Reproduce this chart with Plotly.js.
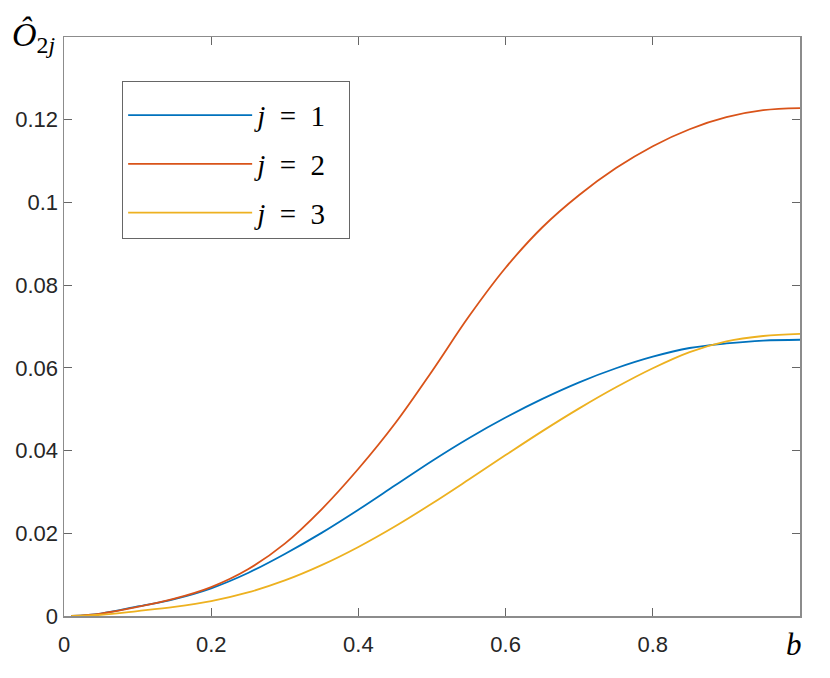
<!DOCTYPE html>
<html>
<head>
<meta charset="utf-8">
<script src="https://cdn.plot.ly/plotly-3.0.1.min.js"></script>
<style>
  html, body { margin: 0; padding: 0; background: #fff; }
  #chart { width: 830px; height: 678px; }
</style>
</head>
<body>
<div id="chart"></div>
<script>
var b = [0.01, 0.05, 0.1, 0.15, 0.2, 0.25, 0.3, 0.35, 0.4, 0.45, 0.5,
         0.55, 0.6, 0.65, 0.7, 0.75, 0.8, 0.85, 0.9, 0.95, 1.0];
var o21 = [0, 0.0006, 0.0023, 0.0041, 0.0067, 0.0104, 0.0150, 0.0201, 0.0257, 0.0316, 0.0375,
           0.0430, 0.0480, 0.0525, 0.0565, 0.0599, 0.0627, 0.0648, 0.0659, 0.0666, 0.0668];
var o22 = [0, 0.0006, 0.0022, 0.0042, 0.0070, 0.0113, 0.0175, 0.0258, 0.0356, 0.0466, 0.0592,
           0.0724, 0.0842, 0.0940, 0.1018, 0.1083, 0.1136, 0.1177, 0.1206, 0.1223, 0.1228];
var o23 = [0, 0.0003, 0.0012, 0.0022, 0.0036, 0.0057, 0.0086, 0.0123, 0.0167, 0.0217, 0.0272,
           0.0330, 0.0389, 0.0447, 0.0502, 0.0553, 0.0599, 0.0638, 0.0664, 0.0677, 0.0682];

var sp = '\u2002';
var names = [1, 2, 3].map(function (k) { return '<i>j</i>' + sp + '=' + sp + k + sp; });
var colors = ['#0072BD', '#D95319', '#EDB120'];
var series = [o21, o22, o23];

var xticks = [0, 0.2, 0.4, 0.6, 0.8];
var xlabels = ['0', '0.2', '0.4', '0.6', '0.8'];
var yticks = [0, 0.02, 0.04, 0.06, 0.08, 0.1, 0.12];
var ylabels = ['0', '0.02', '0.04', '0.06', '0.08', '0.1', '0.12'];

var data = series.map(function (s, i) {
  return {
    x: b, y: s, name: names[i], legendgroup: 'g' + i,
    type: 'scatter', mode: 'lines',
    line: {color: colors[i], width: 1.8, shape: 'spline', smoothing: 1}
  };
});

var axisFont = {family: 'Liberation Sans, Arial, sans-serif', size: 22, color: '#262626'};
var serif = 'Liberation Serif, DejaVu Serif, serif';

var layout = {
  width: 830, height: 678,
  margin: {l: 64, r: 30, t: 37, b: 62},
  paper_bgcolor: '#fff', plot_bgcolor: '#fff',
  showlegend: true,
  xaxis: {
    range: [0, 1], tickvals: xticks, ticktext: xlabels,
    ticks: 'inside', ticklen: 8, tickcolor: '#666', tickwidth: 1,
    ticklabelstandoff: 8,
    showline: true, linecolor: '#8c8c8c', linewidth: 1.5, mirror: 'ticks',
    showgrid: false, zeroline: false, tickfont: axisFont, fixedrange: true
  },
  yaxis: {
    range: [0, 0.14], tickvals: yticks, ticktext: ylabels,
    ticks: 'inside', ticklen: 8, tickcolor: '#666', tickwidth: 1,
    showline: true, linecolor: '#8c8c8c', linewidth: 1.5, mirror: 'ticks',
    showgrid: false, zeroline: false, tickfont: axisFont, fixedrange: true
  },
  legend: {
    x: 0.079, y: 0.924, xanchor: 'left', yanchor: 'top',
    bgcolor: '#fff', bordercolor: '#666', borderwidth: 1,
    font: {family: serif, size: 29, color: '#000'},
    title: {text: '\u00A0', font: {size: 6}},
    itemwidth: 124, tracegroupgap: 8
  },
  annotations: [
    {text: '<i>Ô</i><sub>2<i>j</i></sub>', xref: 'paper', yref: 'paper',
     x: -0.041, y: 1.0, xanchor: 'center', yanchor: 'middle', showarrow: false,
     font: {family: serif, size: 34, color: '#000'}},
    {text: '<i>b</i>', xref: 'x', yref: 'paper',
     x: 0.992, y: -0.05, xanchor: 'center', yanchor: 'middle', showarrow: false,
     font: {family: serif, size: 31, color: '#000'}}
  ]
};

Plotly.newPlot('chart', data, layout, {displayModeBar: false, staticPlot: true});
</script>
</body>
</html>
